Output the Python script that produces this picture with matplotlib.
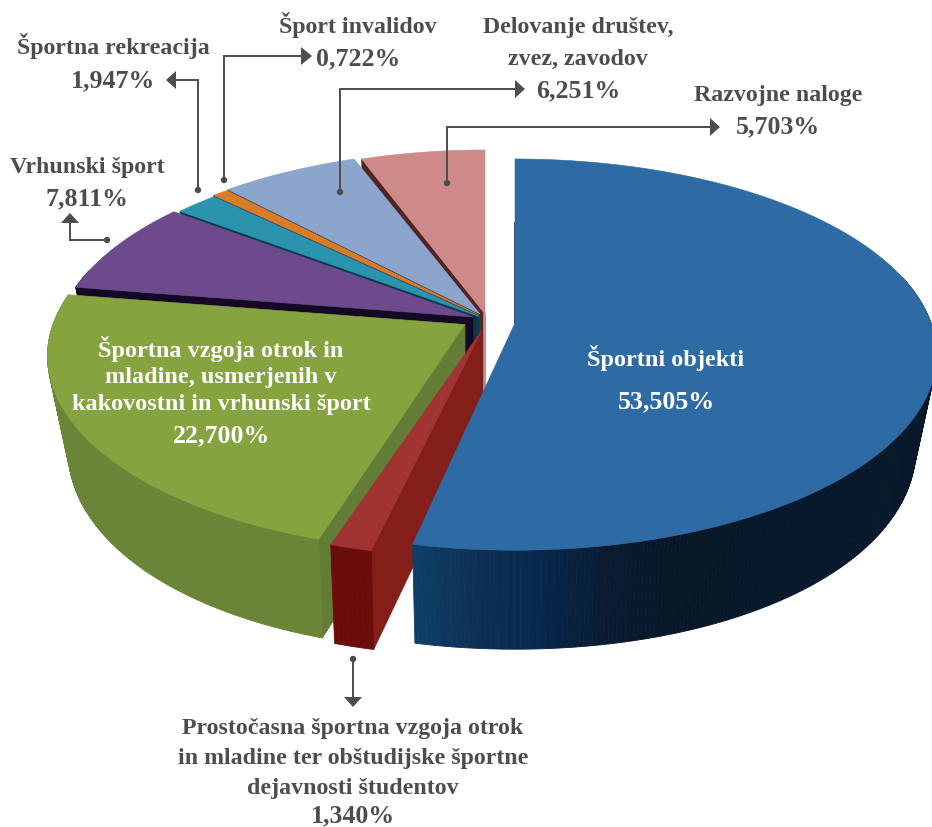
import numpy as np
import matplotlib
matplotlib.use("Agg")
import matplotlib.pyplot as plt
from matplotlib.colors import LinearSegmentedColormap
from matplotlib.patches import Polygon, Circle

# ---- data ----
names = ["Športni objekti", "Prostočasna", "Športna vzgoja", "Vrhunski šport",
         "Športna rekreacija", "Šport invalidov", "Delovanje", "Razvojne naloge"]
shares = [53.505, 1.340, 22.700, 7.811, 1.947, 0.722, 6.251, 5.703]

# ---- styles (same order as data) ----
top_colors = ["#2e6aa3", "#a13333", "#85a33f", "#6c4a8b", "#2b93ae", "#d97c28", "#8ba5cd", "#ce8a89"]
wall_colors = ["#0b2038", "#831e1a", "#637d36", "#150824", "#0b3a46", "#31405a", "#2e3c55", "#4e2424"]
side_colors = ["#0d3f66", "#6b0d0a", "#6a8537", "#150824", "#0b3a46", "#31405a", "#2e3c55", "#4e2424"]
apex_x = [515, 482, 465, 473, 479, 479, 480, 485]
apex_y = [323, 330, 324.5, 317, 316.5, 315, 314, 314]
radius = [416, 426, 412, 413, 413, 413, 413, 405]
end_trim = [0.7, 0, 0, 0, 0, 0, 0, 0]
PAINT_ORDER = [7, 6, 5, 4, 3, 2, 1, 0]
RY, K = 190.5, 0.1615
TEXT = "#4d4d4d"
LABEL_SIZE, VALUE_SIZE, INNER_SIZE = 17.2, 18.6, 17.5

blue_side = LinearSegmentedColormap.from_list(
    "blue_side", ["#0d3f66", "#0e2f55", "#06264a", "#0a1a30", "#081828", "#07182a"])

plt.rcParams["font.family"] = ["Liberation Serif", "DejaVu Serif"]
fig = plt.figure(figsize=(9.32, 8.27), dpi=100)
ax = fig.add_axes([0, 0, 1, 1])
ax.set_xlim(0, 932)
ax.set_ylim(827, 0)
ax.axis("off")


def top_pt(i, deg):
    t = np.radians(deg)
    x, y = np.sin(t), np.cos(t)
    w = 1 + K * y
    return apex_x[i] + radius[i] * x / w, apex_y[i] - RY * y / w


def bottom_pt(i, deg):
    t = np.radians(deg)
    x, y = np.sin(t), np.cos(t)
    w = 1 + K * y
    s = 0.985 - 0.035 * abs(x)
    return apex_x[i] + s * radius[i] * x / w, apex_y[i] - RY * y / w + 92 - 7 * y


edges = np.concatenate([[0], np.cumsum(shares)]) / sum(shares) * 360
for i in PAINT_ORDER:
    a0, a1 = edges[i], edges[i + 1] - end_trim[i]
    angs = np.linspace(a0, a1, max(int((a1 - a0) * 2), 6))
    apex = (apex_x[i], apex_y[i])
    apex_b = (apex_x[i], apex_y[i] + 92)

    # cut face at the start angle
    ax.add_patch(Polygon([apex, top_pt(i, a0), bottom_pt(i, a0), apex_b],
                         fc=wall_colors[i], ec=wall_colors[i], lw=0.5, zorder=2))
    # outer rim, only on the front half
    for b0, b1 in zip(angs[:-1], angs[1:]):
        if np.cos(np.radians(b0)) > 0.25 and np.cos(np.radians(b1)) > 0.25:
            continue
        if i == 0:
            xm = top_pt(i, b0)[0]
            col = blue_side(np.clip((xm - 415) / 330, 0, 1))
        else:
            col = side_colors[i]
        ax.add_patch(Polygon([top_pt(i, b0), top_pt(i, b1), bottom_pt(i, b1), bottom_pt(i, b0)],
                             fc=col, ec=col, lw=0.6, zorder=2))
    # pink's far cut face shows as a sliver in the gap
    if i == 7:
        ax.plot([apex[0] - 1, apex[0] - 1], [apex[1], apex[1] + 80], color=top_colors[i], lw=2, zorder=2)
    if i == 0:
        ax.plot([apex[0], apex[0]], [apex[1] - 100, apex[1]], color=wall_colors[i], lw=1.2, zorder=2)
    # top face
    ax.add_patch(Polygon([apex] + [top_pt(i, a) for a in angs],
                         fc=top_colors[i], ec=top_colors[i], lw=0.4, zorder=2))

# ---- leaders ----
LINE = dict(color=TEXT, lw=1.4, zorder=3, solid_capstyle="butt", solid_joinstyle="miter")


def leader(points, head):
    xs, ys = zip(*points)
    ax.plot(xs, ys, **LINE)
    ax.add_patch(Circle(points[0], 3.2, fc=TEXT, ec="none", zorder=3))
    ax.add_patch(Polygon(head, fc=TEXT, ec="none", zorder=3))


leader([(447, 183), (447, 127), (711, 127)], [(710, 118), (720, 127), (710, 136)])
leader([(340, 192), (340, 89), (516, 89)], [(515, 80), (525, 89), (515, 98)])
leader([(224, 180), (224, 56), (302, 56)], [(301, 47), (312, 56), (301, 65)])
leader([(198, 190), (198, 80), (175, 80)], [(176, 71), (166, 80), (176, 89)])
leader([(107, 240), (70, 240), (70, 222)], [(61, 223), (70, 213), (79, 223)])
leader([(353, 659), (353, 698)], [(344, 697), (353, 707), (362, 697)])

# ---- text ----
labels = [
    ("Športna rekreacija", 113, 54, LABEL_SIZE, TEXT), ("1,947%", 113, 87, VALUE_SIZE, TEXT),
    ("Šport invalidov", 358, 33, LABEL_SIZE, TEXT), ("0,722%", 358, 65, VALUE_SIZE, TEXT),
    ("Delovanje društev,", 578, 33, LABEL_SIZE, TEXT), ("zvez, zavodov", 578, 65, LABEL_SIZE, TEXT),
    ("6,251%", 578, 97, VALUE_SIZE, TEXT),
    ("Razvojne naloge", 778, 101, LABEL_SIZE, TEXT), ("5,703%", 778, 133, VALUE_SIZE, TEXT),
    ("Vrhunski šport", 87, 173, LABEL_SIZE, TEXT), ("7,811%", 87, 205, VALUE_SIZE, TEXT),
    ("Prostočasna športna vzgoja otrok", 353, 734, LABEL_SIZE, TEXT),
    ("in mladine ter obštudijske športne", 353, 764, LABEL_SIZE, TEXT),
    ("dejavnosti študentov", 353, 794, LABEL_SIZE, TEXT), ("1,340%", 353, 822, VALUE_SIZE, TEXT),
    ("Športna vzgoja otrok in", 221, 357, INNER_SIZE, "white"),
    ("mladine, usmerjenih v", 221, 383, INNER_SIZE, "white"),
    ("kakovostni in vrhunski šport", 221, 410, INNER_SIZE, "white"),
    ("22,700%", 221, 442, VALUE_SIZE, "white"),
    ("Športni objekti", 666, 366, INNER_SIZE, "white"), ("53,505%", 666, 408, VALUE_SIZE, "white"),
]
for s, x, y, size, col in labels:
    ax.text(x, y, s, ha="center", va="baseline", fontsize=size, fontweight="bold", color=col, zorder=4)

fig.savefig("out.png", dpi=100, facecolor="white")
